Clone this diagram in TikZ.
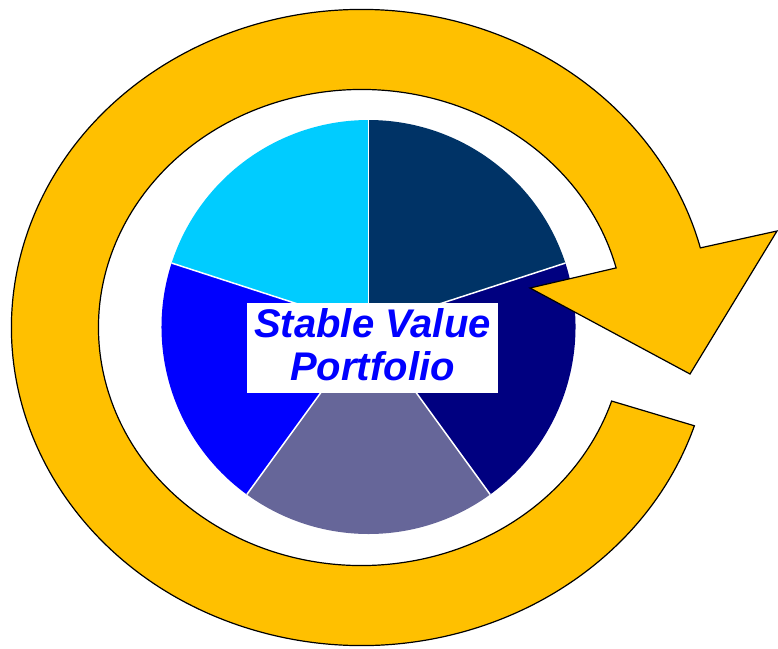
\documentclass[tikz,border=0pt]{standalone}
\usepackage{fontspec}
\setmainfont{Liberation Sans}
\usetikzlibrary{calc}
\definecolor{ringyellow}{RGB}{255,192,0}
\definecolor{sliceA}{RGB}{0,51,102}
\definecolor{sliceB}{RGB}{0,0,128}
\definecolor{sliceC}{RGB}{102,102,153}
\definecolor{sliceD}{RGB}{0,0,255}
\definecolor{sliceE}{RGB}{0,204,255}
\definecolor{textblue}{RGB}{0,0,255}
\begin{document}
\begin{tikzpicture}[x=1pt,y=1pt,
  separator/.style={white,line width=1.5pt},
  ringarrow/.style={fill=ringyellow,draw=black,line width=1.2pt,line join=miter},
  labelbox/.style={fill=white,inner sep=0pt,minimum width=251pt,minimum height=90pt},
  labeltext/.style={text=textblue,font=\fontsize{40}{44}\selectfont\bfseries\itshape,anchor=base,inner sep=0pt}]
\useasboundingbox (0,0) rectangle (778,-648);
% pie
\coordinate (pc) at (368.5,-327);
\fill[sliceA] (pc) -- ++(18:207) arc[start angle=18,end angle=90,radius=207] -- cycle;
\fill[sliceB] (pc) -- ++(-54:207) arc[start angle=-54,end angle=18,radius=207] -- cycle;
\fill[sliceC] (pc) -- ++(-126:207) arc[start angle=-126,end angle=-54,radius=207] -- cycle;
\fill[sliceD] (pc) -- ++(162:207) arc[start angle=162,end angle=234,radius=207] -- cycle;
\fill[sliceE] (pc) -- ++(90:207) arc[start angle=90,end angle=162,radius=207] -- cycle;
\foreach \a in {90,18,-54,-126,162}{
  \draw[separator] (pc) -- ++(\a:207);
}
% label
\node[labelbox] (box) at (372.5,-348) {};
\node[labeltext] (l1) at (372.5,-337) {Stable Value};
\node[labeltext] (l2) at (372.5,-380) {Portfolio};
% circular arrow
\coordinate (rc) at (361.5,-327.5);
\coordinate (barbR) at (777,-231);
\coordinate (tip) at (690,-374);
\coordinate (barbL) at (530,-288);
\draw[ringarrow] ($(rc)+(-18:350 and 318)$)
  arc[start angle=-18,end angle=-345.5,x radius=350,y radius=318]
  -- (barbR) -- (tip) -- (barbL)
  -- ($(rc)+(14.5:263 and 238)$)
  arc[start angle=14.5,end angle=342,x radius=263,y radius=238]
  -- cycle;
\end{tikzpicture}
\end{document}
